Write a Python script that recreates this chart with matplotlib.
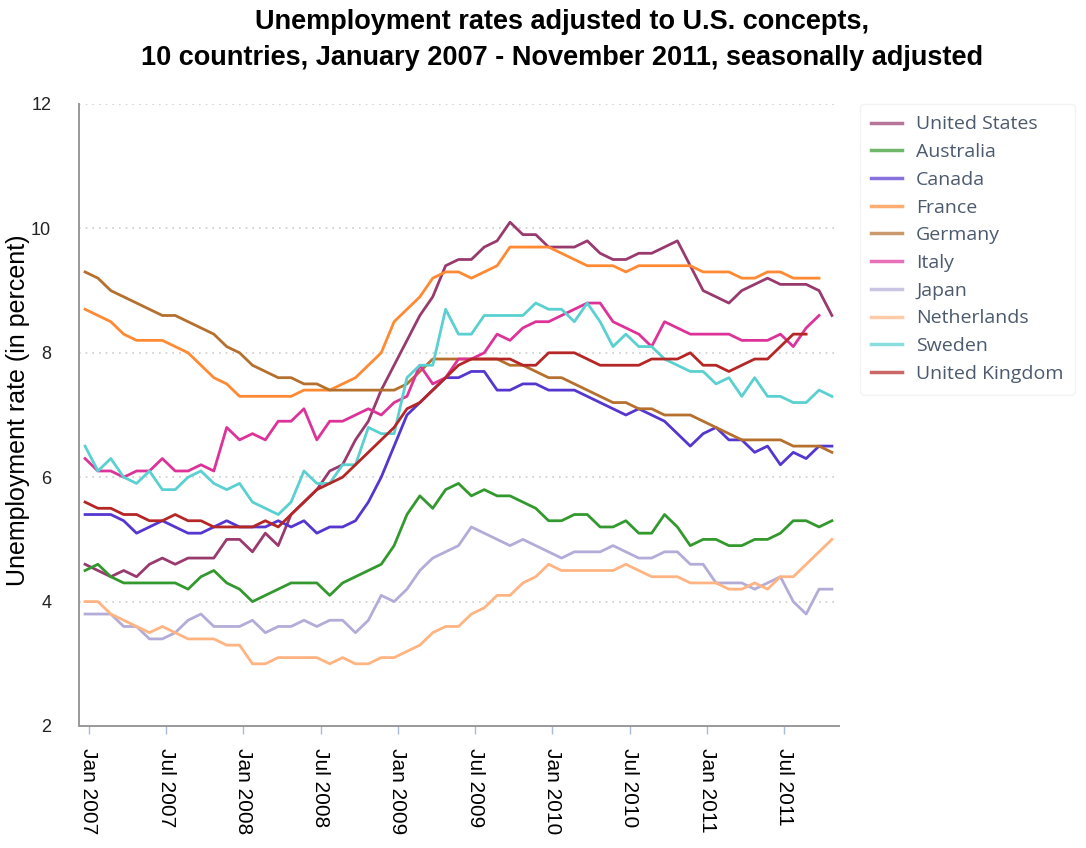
import matplotlib
matplotlib.use("Agg")
import matplotlib.pyplot as plt
from matplotlib.lines import Line2D
import numpy as np

months = ["Jan 2007", "Jul 2007", "Jan 2008", "Jul 2008", "Jan 2009",
          "Jul 2009", "Jan 2010", "Jul 2010", "Jan 2011", "Jul 2011"]

united_states = [4.6, 4.5, 4.4, 4.5, 4.4, 4.6, 4.7, 4.6, 4.7, 4.7, 4.7, 5.0,
                 5.0, 4.8, 5.1, 4.9, 5.4, 5.6, 5.8, 6.1, 6.2, 6.6, 6.9, 7.4,
                 7.8, 8.2, 8.6, 8.9, 9.4, 9.5, 9.5, 9.7, 9.8, 10.1, 9.9, 9.9,
                 9.7, 9.7, 9.7, 9.8, 9.6, 9.5, 9.5, 9.6, 9.6, 9.7, 9.8, 9.4,
                 9.0, 8.9, 8.8, 9.0, 9.1, 9.2, 9.1, 9.1, 9.1, 9.0, 8.6]
australia = [4.5, 4.6, 4.4, 4.3, 4.3, 4.3, 4.3, 4.3, 4.2, 4.4, 4.5, 4.3,
             4.2, 4.0, 4.1, 4.2, 4.3, 4.3, 4.3, 4.1, 4.3, 4.4, 4.5, 4.6,
             4.9, 5.4, 5.7, 5.5, 5.8, 5.9, 5.7, 5.8, 5.7, 5.7, 5.6, 5.5,
             5.3, 5.3, 5.4, 5.4, 5.2, 5.2, 5.3, 5.1, 5.1, 5.4, 5.2, 4.9,
             5.0, 5.0, 4.9, 4.9, 5.0, 5.0, 5.1, 5.3, 5.3, 5.2, 5.3]
canada = [5.4, 5.4, 5.4, 5.3, 5.1, 5.2, 5.3, 5.2, 5.1, 5.1, 5.2, 5.3,
          5.2, 5.2, 5.2, 5.3, 5.2, 5.3, 5.1, 5.2, 5.2, 5.3, 5.6, 6.0,
          6.5, 7.0, 7.2, 7.4, 7.6, 7.6, 7.7, 7.7, 7.4, 7.4, 7.5, 7.5,
          7.4, 7.4, 7.4, 7.3, 7.2, 7.1, 7.0, 7.1, 7.0, 6.9, 6.7, 6.5,
          6.7, 6.8, 6.6, 6.6, 6.4, 6.5, 6.2, 6.4, 6.3, 6.5, 6.5]
france = [8.7, 8.6, 8.5, 8.3, 8.2, 8.2, 8.2, 8.1, 8.0, 7.8, 7.6, 7.5,
          7.3, 7.3, 7.3, 7.3, 7.3, 7.4, 7.4, 7.4, 7.5, 7.6, 7.8, 8.0,
          8.5, 8.7, 8.9, 9.2, 9.3, 9.3, 9.2, 9.3, 9.4, 9.7, 9.7, 9.7,
          9.7, 9.6, 9.5, 9.4, 9.4, 9.4, 9.3, 9.4, 9.4, 9.4, 9.4, 9.4,
          9.3, 9.3, 9.3, 9.2, 9.2, 9.3, 9.3, 9.2, 9.2, 9.2]
germany = [9.3, 9.2, 9.0, 8.9, 8.8, 8.7, 8.6, 8.6, 8.5, 8.4, 8.3, 8.1,
           8.0, 7.8, 7.7, 7.6, 7.6, 7.5, 7.5, 7.4, 7.4, 7.4, 7.4, 7.4,
           7.4, 7.5, 7.7, 7.9, 7.9, 7.9, 7.9, 7.9, 7.9, 7.8, 7.8, 7.7,
           7.6, 7.6, 7.5, 7.4, 7.3, 7.2, 7.2, 7.1, 7.1, 7.0, 7.0, 7.0,
           6.9, 6.8, 6.7, 6.6, 6.6, 6.6, 6.6, 6.5, 6.5, 6.5, 6.4]
italy = [6.3, 6.1, 6.1, 6.0, 6.1, 6.1, 6.3, 6.1, 6.1, 6.2, 6.1, 6.8,
         6.6, 6.7, 6.6, 6.9, 6.9, 7.1, 6.6, 6.9, 6.9, 7.0, 7.1, 7.0,
         7.2, 7.3, 7.8, 7.5, 7.6, 7.9, 7.9, 8.0, 8.3, 8.2, 8.4, 8.5,
         8.5, 8.6, 8.7, 8.8, 8.8, 8.5, 8.4, 8.3, 8.1, 8.5, 8.4, 8.3,
         8.3, 8.3, 8.3, 8.2, 8.2, 8.2, 8.3, 8.1, 8.4, 8.6]
japan = [3.8, 3.8, 3.8, 3.6, 3.6, 3.4, 3.4, 3.5, 3.7, 3.8, 3.6, 3.6,
         3.6, 3.7, 3.5, 3.6, 3.6, 3.7, 3.6, 3.7, 3.7, 3.5, 3.7, 4.1,
         4.0, 4.2, 4.5, 4.7, 4.8, 4.9, 5.2, 5.1, 5.0, 4.9, 5.0, 4.9,
         4.8, 4.7, 4.8, 4.8, 4.8, 4.9, 4.8, 4.7, 4.7, 4.8, 4.8, 4.6,
         4.6, 4.3, 4.3, 4.3, 4.2, 4.3, 4.4, 4.0, 3.8, 4.2, 4.2]
netherlands = [4.0, 4.0, 3.8, 3.7, 3.6, 3.5, 3.6, 3.5, 3.4, 3.4, 3.4, 3.3,
               3.3, 3.0, 3.0, 3.1, 3.1, 3.1, 3.1, 3.0, 3.1, 3.0, 3.0, 3.1,
               3.1, 3.2, 3.3, 3.5, 3.6, 3.6, 3.8, 3.9, 4.1, 4.1, 4.3, 4.4,
               4.6, 4.5, 4.5, 4.5, 4.5, 4.5, 4.6, 4.5, 4.4, 4.4, 4.4, 4.3,
               4.3, 4.3, 4.2, 4.2, 4.3, 4.2, 4.4, 4.4, 4.6, 4.8, 5.0]
sweden = [6.5, 6.1, 6.3, 6.0, 5.9, 6.1, 5.8, 5.8, 6.0, 6.1, 5.9, 5.8,
          5.9, 5.6, 5.5, 5.4, 5.6, 6.1, 5.9, 5.9, 6.2, 6.2, 6.8, 6.7,
          6.7, 7.6, 7.8, 7.8, 8.7, 8.3, 8.3, 8.6, 8.6, 8.6, 8.6, 8.8,
          8.7, 8.7, 8.5, 8.8, 8.5, 8.1, 8.3, 8.1, 8.1, 7.9, 7.8, 7.7,
          7.7, 7.5, 7.6, 7.3, 7.6, 7.3, 7.3, 7.2, 7.2, 7.4, 7.3]
united_kingdom = [5.6, 5.5, 5.5, 5.4, 5.4, 5.3, 5.3, 5.4, 5.3, 5.3, 5.2, 5.2,
                  5.2, 5.2, 5.3, 5.2, 5.4, 5.6, 5.8, 5.9, 6.0, 6.2, 6.4, 6.6,
                  6.8, 7.1, 7.2, 7.4, 7.6, 7.8, 7.9, 7.9, 7.9, 7.9, 7.8, 7.8,
                  8.0, 8.0, 8.0, 7.9, 7.8, 7.8, 7.8, 7.8, 7.9, 7.9, 7.9, 8.0,
                  7.8, 7.8, 7.7, 7.8, 7.9, 7.9, 8.1, 8.3, 8.3]

series = [
    ("United States", united_states, "#993a6e"),
    ("Australia", australia, "#33992e"),
    ("Canada", canada, "#5536cf"),
    ("France", france, "#ff8a33"),
    ("Germany", germany, "#b5702e"),
    ("Italy", italy, "#dd3399"),
    ("Japan", japan, "#b4acd8"),
    ("Netherlands", netherlands, "#ffb482"),
    ("Sweden", sweden, "#5ad0d0"),
    ("United Kingdom", united_kingdom, "#b52626"),
]

W, H = 1086, 848
fig = plt.figure(figsize=(W / 100, H / 100), dpi=100)
ax = fig.add_axes([79 / W, 1 - 726 / H, (839 - 79) / W, (726 - 104) / H])

for name, vals, col in series:
    ax.plot(np.arange(len(vals)), vals, color=col, lw=2.0, solid_joinstyle="round")

ax.set_xlim(-0.47, 58.55)
ax.set_ylim(2, 12)
ax.set_yticks([2, 4, 6, 8, 10, 12])
ax.set_xticks(np.arange(0, 60, 6) + 0.3)
ax.set_xticklabels(months, rotation=270, fontsize=15, family=["Liberation Sans", "DejaVu Sans"])
ax.tick_params(axis="x", length=6, color="#a8bcd8", pad=10, width=1)
ax.tick_params(axis="y", length=0, pad=20, labelsize=13, labelcolor="#222222")
for lab in ax.get_yticklabels():
    lab.set_family(["Liberation Sans", "DejaVu Sans"])

for y in [4, 6, 8, 10, 12]:
    ax.axhline(y, color="#cccccc", lw=1.2, ls=(0, (1, 3)), zorder=0)

for s in ["top", "right"]:
    ax.spines[s].set_visible(False)
for s in ["left", "bottom"]:
    ax.spines[s].set_color("#999999")
    ax.spines[s].set_linewidth(1.4)

fig.text(562 / W, 1 - 40 / H,
         "Unemployment rates adjusted to U.S. concepts,\n10 countries, January 2007 - November 2011, seasonally adjusted",
         ha="center", va="center", fontsize=19.5, fontweight="bold", linespacing=1.5,
         family=["Liberation Sans", "DejaVu Sans"])

fig.text(18 / W, 1 - 410 / H, "Unemployment rate (in percent)", rotation=90,
         ha="center", va="center", fontsize=18, family=["Liberation Sans", "DejaVu Sans"])

handles = [Line2D([0], [0], color=c, lw=2.5, alpha=0.7) for _, _, c in series]
labels = [n for n, _, _ in series]
leg = fig.legend(handles, labels, loc="upper left", bbox_to_anchor=(850 / W, 1 - 94 / H),
                 frameon=True, fancybox=True, handlelength=1.6,
                 labelspacing=0.5, handletextpad=0.7, borderpad=0.6,
                 prop={"family": ["Open Sans", "DejaVu Sans"], "size": 14})
leg.get_frame().set_edgecolor("#f0f0f0")
leg.get_frame().set_linewidth(1.0)
for t in leg.get_texts():
    t.set_color("#4c5a6e")

fig.savefig("out.png", dpi=100)
